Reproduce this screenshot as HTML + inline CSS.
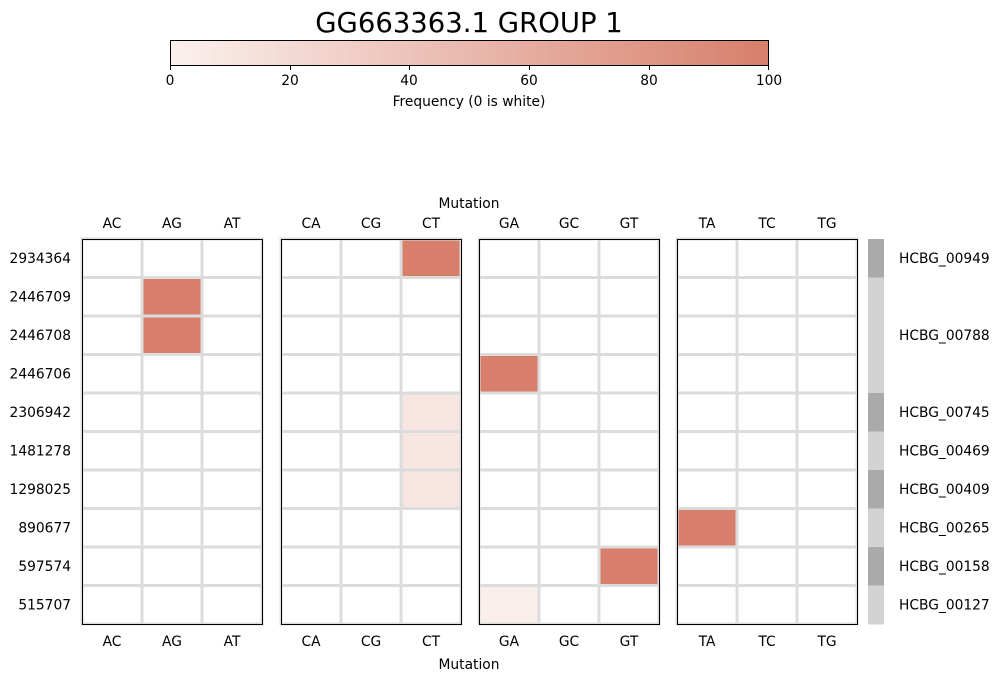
<!DOCTYPE html>
<html><head><meta charset="utf-8"><style>body{margin:0;background:#fff}svg{display:block;font-family:"DejaVu Sans","Liberation Sans",sans-serif}</style></head>
<body>
<svg width="999" height="681" viewBox="0 0 999 681" xmlns="http://www.w3.org/2000/svg">
<defs><linearGradient id="g" x1="0" x2="1"><stop offset="0" stop-color="#fbf1ee"/><stop offset="1" stop-color="#d77f6b"/></linearGradient></defs>
<text x="469" y="32" font-size="27.5" text-anchor="middle" fill="#000">GG663363.1 GROUP 1</text>
<rect x="170.5" y="40.5" width="598" height="25" fill="url(#g)" stroke="#000" stroke-width="1"/>
<g font-size="13.8" text-anchor="middle" fill="#000">
<g stroke="#000"><line x1="170.5" y1="65" x2="170.5" y2="70"/><line x1="290.5" y1="65" x2="290.5" y2="70"/><line x1="409.5" y1="65" x2="409.5" y2="70"/><line x1="529.5" y1="65" x2="529.5" y2="70"/><line x1="649.5" y1="65" x2="649.5" y2="70"/><line x1="768.5" y1="65" x2="768.5" y2="70"/></g>
<text x="170" y="85">0</text><text x="290" y="85">20</text><text x="409" y="85">40</text><text x="529" y="85">60</text><text x="649" y="85">80</text><text x="769" y="85">100</text>
<text x="469" y="106">Frequency (0 is white)</text>
<text x="469" y="208">Mutation</text>
<text x="469" y="669">Mutation</text>
</g>
<script>
var FS=13.8;
var px=[82,281,479,677],cols=[["AC","AG","AT"],["CA","CG","CT"],["GA","GC","GT"],["TA","TC","TG"]];
var rows=["2934364","2446709","2446708","2446706","2306942","1481278","1298025","890677","597574","515707"];
var F="#d77f6b",L="#f6e5e1",L2="#f9eeea";
var fill={"0,1,2":F,"1,0,1":F,"2,0,1":F,"3,2,0":F,"4,1,2":L,"5,1,2":L,"6,1,2":L,"7,3,0":F,"8,2,2":F,"9,2,0":L2};
var ns="http://www.w3.org/2000/svg",s=document.querySelector("svg"),h=38.5,top0=239;
function el(t,a,txt){var e=document.createElementNS(ns,t);for(var k in a)e.setAttribute(k,a[k]);if(txt)e.textContent=txt;s.appendChild(e);return e;}
for(var p=0;p<4;p++){for(var r=0;r<10;r++)for(var c=0;c<3;c++){var f=fill[r+","+p+","+c]||"#fff";el("rect",{x:px[p]+c*60,y:top0+r*h,width:60,height:h,fill:f,stroke:"#dcdcdc","stroke-width":3});}
el("rect",{x:px[p]+0.5,y:top0+0.5,width:180,height:385,fill:"none",stroke:"#000","stroke-width":1});
for(var c=0;c<3;c++){var x=px[p]+30+c*60;el("text",{x:x,y:228,"font-size":FS,"text-anchor":"middle"},cols[p][c]);el("text",{x:x,y:646,"font-size":FS,"text-anchor":"middle"},cols[p][c]);}}
for(var r=0;r<10;r++)el("text",{x:71,y:top0+r*h+24,"font-size":FS,"text-anchor":"end"},rows[r]);
var gb=["#aaa","#d3d3d3","#d3d3d3","#d3d3d3","#aaa","#d3d3d3","#aaa","#d3d3d3","#aaa","#d3d3d3"];
for(var r=0;r<10;r++)el("rect",{x:868,y:top0+r*h,width:16,height:h+0.5,fill:gb[r]});
var gl=[[0,"HCBG_00949"],[2,"HCBG_00788"],[4,"HCBG_00745"],[5,"HCBG_00469"],[6,"HCBG_00409"],[7,"HCBG_00265"],[8,"HCBG_00158"],[9,"HCBG_00127"]];
gl.forEach(function(g){el("text",{x:899,y:top0+g[0]*h+24,"font-size":FS},g[1]);});
</script>
</svg>
</body></html>
